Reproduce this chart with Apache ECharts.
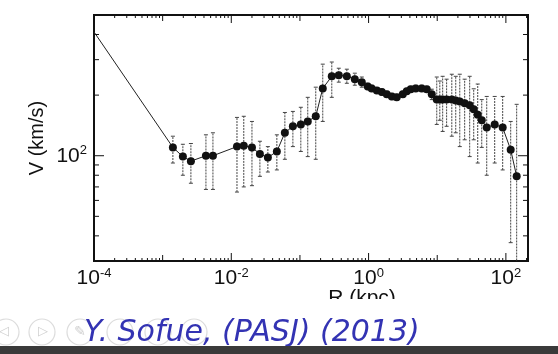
<!DOCTYPE html>
<html>
<head>
<meta charset="utf-8">
<script src="https://cdn.jsdelivr.net/npm/echarts@6/dist/echarts.min.js"></script>
<style>
  html, body { margin: 0; padding: 0; background: #fff; }
  #chart { width: 558px; height: 354px; }
</style>
</head>
<body>
<div id="chart"></div>
<script>
// rotation curve (R in kpc, V in km/s)
const radius = [1e-4, 0.00141, 0.00197, 0.00258, 0.00427, 0.0054, 0.0121, 0.0152, 0.020, 0.0261,
  0.0341, 0.0461, 0.0603, 0.0789, 0.103, 0.130, 0.170, 0.215, 0.291, 0.368,
  0.482, 0.630, 0.796, 0.973, 1.11, 1.32, 1.56, 1.84, 2.18, 2.57,
  3.15, 3.60, 4.11, 4.86, 5.94, 7.03, 8.32, 9.84, 10.9, 12.0,
  13.7, 16.3, 18.6, 21.3, 25.1, 29.7, 34.0, 38.9, 44.5, 52.6,
  68.7, 89.8, 117.5, 143.6];
const velocity = [412, 110, 99, 94, 100, 100, 111, 112, 110, 102,
  98, 105, 130, 140, 143, 148, 157, 216, 248, 251,
  248, 240, 232, 221, 216, 211, 207, 202, 197, 195,
  202, 209, 214, 216, 216, 214, 202, 190, 190, 190,
  190, 190, 188, 186, 182, 178, 170, 160, 150, 138,
  143, 138, 107, 79];
const velLow = [null, 92, 80, 73, 68, 68, 66, 70, 71, 79,
  83, 85, 96, 111, 105, 99, 96, 148, 195, 232,
  229, 224, 219, 213, 209, 204, 200, 195, 190, 188,
  195, 202, 207, 209, 209, 207, 190, 143, 150, 132,
  140, 125, 130, 111, 120, 99, 120, 92, 110, 80,
  92, 85, 37, 20];
const velHigh = [null, 125, 114, 115, 127, 130, 155, 157, 148, 118,
  111, 127, 164, 166, 174, 195, 219, 285, 292, 272,
  269, 257, 246, 229, 224, 218, 214, 209, 204, 202,
  209, 216, 221, 224, 224, 221, 214, 246, 235, 248,
  240, 254, 248, 254, 240, 248, 215, 227, 190, 197,
  197, 197, 148, 180];

const xLabelPowers = [-4, -2, 0, 2];
const yLabelPowers = [2];
const yTickValues = [40, 50, 60, 70, 80, 90, 100, 200, 300, 400];

const R_MIN = 1e-4, R_MAX = 210, V_MIN = 30, V_MAX = 500;
const FONT = 'Liberation Sans';

// log ticks along R: decades plus 2..9 in each decade
const xTicks = [];
for (let e = -4; e <= 2; e++) {
  for (let m = 1; m <= 9; m++) {
    const v = m * Math.pow(10, e);
    if (v < R_MAX) xTicks.push([v, V_MIN, m === 1 ? (e % 2 === 0 ? 2 : 1) : 0]);
  }
}
const yTicks = yTickValues.map(v => [R_MIN, v, v === 100 ? 2 : 0]);

function powerLabel(shown) {
  return function (value) {
    const lg = Math.log10(value);
    const p = Math.round(lg);
    if (Math.abs(lg - p) > 1e-6 || shown.indexOf(p) < 0) return '';
    return '{b|10}{s|' + (p < 0 ? '-' : '') + Math.abs(p) + '}';
  };
}

const labelRich = {
  b: { fontSize: 21, fontFamily: FONT, color: '#111', lineHeight: 23 },
  s: { fontSize: 13, fontFamily: FONT, color: '#111', verticalAlign: 'top', lineHeight: 13 }
};

const pts = radius.map((r, i) => i === 0 ? { value: [r, velocity[i]], symbol: 'none' } : [r, velocity[i]]);
const bars = [];
radius.forEach((r, i) => {
  if (velLow[i] != null) bars.push([r, velLow[i], velHigh[i]]);
});

function line(x1, y1, x2, y2, stroke, dash) {
  return {
    type: 'line',
    shape: { x1: x1, y1: y1, x2: x2, y2: y2 },
    style: { stroke: stroke, lineWidth: 1, lineDash: dash || null }
  };
}

const chart = echarts.init(document.getElementById('chart'));
chart.setOption({
  animation: false,
  backgroundColor: '#fff',
  grid: {
    left: 94, right: 30, top: 15, bottom: 93,
    show: true, borderColor: '#111', borderWidth: 2,
    outerBoundsMode: 'none'
  },
  xAxis: {
    type: 'log', min: R_MIN, max: R_MAX, splitNumber: 5,
    name: 'R (kpc)', nameLocation: 'middle', nameGap: 27, nameMoveOverlap: false,
    nameTextStyle: { fontSize: 21, fontFamily: FONT, color: '#111', padding: [0, 0, 0, 102] },
    axisLine: { show: false }, axisTick: { show: false }, splitLine: { show: false },
    axisLabel: { margin: 6, formatter: powerLabel(xLabelPowers), rich: labelRich }
  },
  yAxis: {
    type: 'log', min: V_MIN, max: V_MAX,
    name: 'V (km/s)', nameLocation: 'middle', nameGap: 47, nameMoveOverlap: false,
    nameTextStyle: { fontSize: 20, fontFamily: FONT, color: '#111' },
    axisLine: { show: false }, axisTick: { show: false }, splitLine: { show: false },
    axisLabel: { margin: 7, formatter: powerLabel(yLabelPowers), rich: labelRich }
  },
  series: [
    {
      type: 'custom', name: 'xticks', silent: true, clip: false, z: 1,
      encode: { x: 0, y: 1 },
      data: xTicks,
      renderItem: function (params, api) {
        const v = api.value(0), kind = api.value(2);
        const len = kind === 2 ? 8 : kind === 1 ? 6 : 3;
        const b = api.coord([v, V_MIN]), t = api.coord([v, V_MAX]);
        return { type: 'group', children: [
          line(b[0], b[1], b[0], b[1] - len, '#111'),
          line(t[0], t[1], t[0], t[1] + len, '#111')
        ] };
      }
    },
    {
      type: 'custom', name: 'yticks', silent: true, clip: false, z: 1,
      encode: { x: 0, y: 1 },
      data: yTicks,
      renderItem: function (params, api) {
        const v = api.value(1), kind = api.value(2);
        const len = kind === 2 ? 10 : 5;
        const l = api.coord([R_MIN, v]), r = api.coord([R_MAX, v]);
        return { type: 'group', children: [
          line(l[0], l[1], l[0] + len, l[1], '#111'),
          line(r[0], r[1], r[0] - len, r[1], '#111')
        ] };
      }
    },
    {
      type: 'custom', name: 'errors', silent: true, clip: true, z: 2,
      encode: { x: 0, y: [1, 2] },
      data: bars,
      renderItem: function (params, api) {
        const r = api.value(0);
        const lo = api.coord([r, api.value(1)]), hi = api.coord([r, api.value(2)]);
        return { type: 'group', children: [
          line(lo[0], lo[1], hi[0], hi[1], '#444', [2, 1]),
          line(lo[0] - 2, lo[1], lo[0] + 2, lo[1], '#444'),
          line(hi[0] - 2, hi[1], hi[0] + 2, hi[1], '#444')
        ] };
      }
    },
    {
      type: 'line', name: 'V', z: 3,
      data: pts,
      symbol: 'circle', symbolSize: 8,
      itemStyle: { color: '#111' },
      lineStyle: { color: '#222', width: 1 }
    }
  ],
  graphic: [
    { type: 'rect', z: 100, shape: { x: 0, y: 299, width: 558, height: 47 }, style: { fill: '#fff' } },
    { type: 'circle', z: 101, shape: { cx: 6, cy: 332, r: 13 }, style: { fill: 'none', stroke: '#dcdcdc', lineWidth: 1.2 } },
    { type: 'circle', z: 101, shape: { cx: 42, cy: 332, r: 13 }, style: { fill: 'none', stroke: '#dcdcdc', lineWidth: 1.2 } },
    { type: 'circle', z: 101, shape: { cx: 80, cy: 332, r: 13 }, style: { fill: 'none', stroke: '#dcdcdc', lineWidth: 1.2 } },
    { type: 'circle', z: 101, shape: { cx: 120, cy: 332, r: 13 }, style: { fill: 'none', stroke: '#dcdcdc', lineWidth: 1.2 } },
    { type: 'circle', z: 101, shape: { cx: 158, cy: 332, r: 13 }, style: { fill: 'none', stroke: '#dcdcdc', lineWidth: 1.2 } },
    { type: 'circle', z: 101, shape: { cx: 194, cy: 332, r: 13 }, style: { fill: 'none', stroke: '#dcdcdc', lineWidth: 1.2 } },
    { type: 'text', z: 102, style: { x: 4, y: 332, text: '◁', fill: '#cfcfcf', font: '13px "DejaVu Sans"', align: 'center', verticalAlign: 'middle' } },
    { type: 'text', z: 102, style: { x: 43, y: 332, text: '▷', fill: '#cfcfcf', font: '13px "DejaVu Sans"', align: 'center', verticalAlign: 'middle' } },
    { type: 'text', z: 102, style: { x: 80, y: 332, text: '✎', fill: '#cfcfcf', font: '14px "DejaVu Sans"', align: 'center', verticalAlign: 'middle' } },
    {
      type: 'text', z: 103,
      style: {
        x: 84, y: 333, text: 'Y. Sofue, (PASJ) (2013)',
        fill: '#3333b3', font: 'italic 30px "DejaVu Sans"',
        align: 'left', verticalAlign: 'middle'
      }
    },
    { type: 'rect', z: 104, shape: { x: 0, y: 346, width: 558, height: 8 }, style: { fill: '#3a3a3a' } }
  ]
});
</script>
</body>
</html>
